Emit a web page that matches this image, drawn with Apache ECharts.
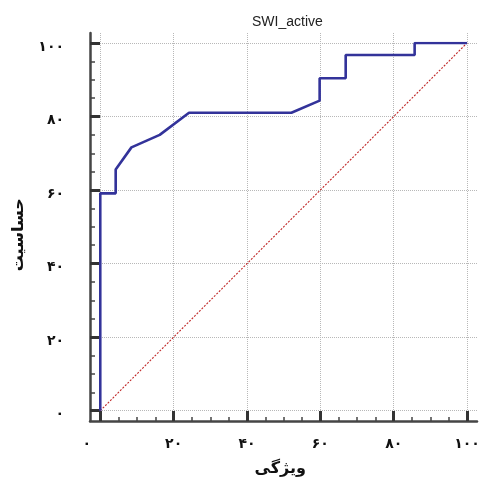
<!DOCTYPE html>
<html>
<head>
<meta charset="utf-8">
<script src="https://cdn.jsdelivr.net/npm/echarts@6/dist/echarts.min.js"></script>
<style>
html,body{margin:0;padding:0;background:#fff;}
#chart{width:483px;height:482px;}
</style>
</head>
<body>
<div id="chart"></div>
<script>
// ROC curve values (x = 100 - specificity, y = sensitivity)
const xValues     = [0, 0,    4.2,  4.2,  8.5,  16.2, 24.2, 52.1, 59.8, 59.8, 66.9, 66.9, 85.7, 85.7, 100];
const sensitivity = [0, 59.1, 59.1, 65.6, 71.6, 75.0, 81.0, 81.0, 84.3, 90.4, 90.4, 96.7, 96.7, 100,  100];
// reference (chance) line
const diagX = [0, 100];
const diagY = [0, 100];
// tick values and labels
const tickValues = [0, 20, 40, 60, 80, 100];
const tickLabels = ['۰', '۲۰', '۴۰', '۶۰', '۸۰', '۱۰۰'];
const chartTitle = 'SWI_active';
const xTitle = 'ویژگی';
const yTitle = 'حساسیت';

const rocData = xValues.map((x, i) => [x, sensitivity[i]]);
const diagData = diagX.map((x, i) => [x, diagY[i]]);
const labelOf = v => { const i = tickValues.indexOf(v); return i >= 0 ? tickLabels[i] : ''; };

const AX_MIN = -2.8, AX_MAX = 102.7;
const faFont = 'DejaVu Sans';
const axisColor = '#454545';
const labelStyle = {fontFamily: faFont, fontWeight: 'bold', fontSize: 14, color: '#111'};

const chart = echarts.init(document.getElementById('chart'));
chart.setOption({
  animation: false,
  backgroundColor: '#fff',
  title: {
    text: chartTitle, left: 247, top: 10,
    textStyle: {fontFamily: 'Liberation Sans', fontSize: 14, fontWeight: 'normal', color: '#222'}
  },
  grid: [
    {left: 90, right: 6, top: 33, bottom: 61},
    {left: 100.27, right: 15.9, top: 42.93, bottom: 71.3}
  ],
  xAxis: [
    {
      gridIndex: 0, type: 'value', min: AX_MIN, max: AX_MAX, position: 'bottom',
      axisLine: {show: true, onZero: false, lineStyle: {color: axisColor, width: 2.5}},
      axisTick: {show: false}, axisLabel: {show: false},
      splitLine: {show: true, showMinLine: false, showMaxLine: false,
        lineStyle: {color: '#b8b8b8', type: [1, 1], width: 1}}
    },
    {
      gridIndex: 1, type: 'value', min: 0, max: 100, interval: 20, offset: 10.3, position: 'bottom',
      axisLine: {show: false, onZero: false},
      axisTick: {show: true, inside: true, length: 10, lineStyle: {color: '#333', width: 3}},
      minorTick: {show: true, splitNumber: 4, length: 4, lineStyle: {color: '#444', width: 1.5}},
      splitLine: {show: false},
      axisLabel: Object.assign({
        margin: 16,
        formatter: v => v === 0 ? '{z|' + labelOf(v) + '}' : labelOf(v),
        rich: {z: Object.assign({padding: [0, 27, 0, 0]}, labelStyle)}
      }, labelStyle),
      name: xTitle, nameLocation: 'middle', nameGap: 40,
      nameTextStyle: {fontFamily: faFont, fontWeight: 'bold', fontSize: 16, color: '#111', padding: [0, 7, 0, 0]}
    }
  ],
  yAxis: [
    {
      gridIndex: 0, type: 'value', min: AX_MIN, max: AX_MAX, position: 'left',
      axisLine: {show: true, onZero: false, lineStyle: {color: axisColor, width: 2.5}},
      axisTick: {show: false}, axisLabel: {show: false},
      splitLine: {show: true, showMinLine: false, showMaxLine: false,
        lineStyle: {color: '#b8b8b8', type: [1, 1], width: 1}}
    },
    {
      gridIndex: 1, type: 'value', min: 0, max: 100, interval: 20, offset: 10.27, position: 'left',
      axisLine: {show: false, onZero: false},
      axisTick: {show: true, inside: true, length: 10, lineStyle: {color: '#333', width: 3}},
      minorTick: {show: true, splitNumber: 4, length: 5, lineStyle: {color: '#444', width: 1.5}},
      splitLine: {show: false},
      axisLabel: Object.assign({
        margin: 26,
        formatter: v => '{d|' + labelOf(v) + '}',
        rich: {d: Object.assign({padding: [8, 0, 0, 0]}, labelStyle)}
      }, labelStyle),
      name: yTitle, nameLocation: 'middle', nameGap: 63, nameRotate: 90,
      nameTextStyle: {fontFamily: faFont, fontWeight: 'bold', fontSize: 16, color: '#111', padding: [0, 16, 0, 0]}
    }
  ],
  series: [
    {
      type: 'line', xAxisIndex: 1, yAxisIndex: 1, data: diagData,
      showSymbol: false, symbol: 'none', silent: true,
      lineStyle: {color: '#c02828', width: 1.1, type: [2, 1.5]}
    },
    {
      type: 'line', xAxisIndex: 1, yAxisIndex: 1, data: rocData,
      showSymbol: false, symbol: 'none', silent: true,
      lineStyle: {color: '#33339a', width: 2.6}
    }
  ]
});
</script>
</body>
</html>
